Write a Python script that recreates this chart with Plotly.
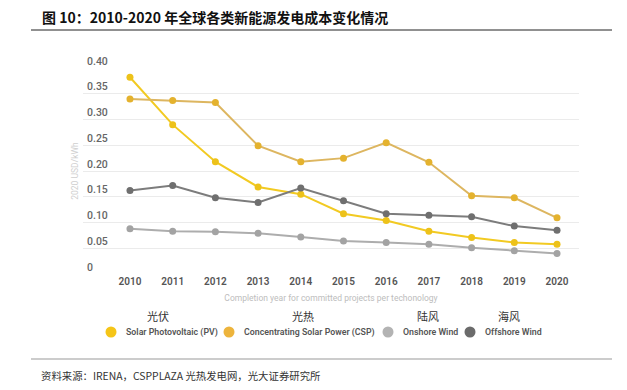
import plotly.graph_objects as go

years = [2010, 2011, 2012, 2013, 2014, 2015, 2016, 2017, 2018, 2019, 2020]
pv = [0.382, 0.290, 0.218, 0.169, 0.155, 0.117, 0.104, 0.083, 0.071, 0.061, 0.058]
csp = [0.340, 0.337, 0.333, 0.249, 0.218, 0.225, 0.255, 0.217, 0.152, 0.148, 0.109]
onshore = [0.088, 0.083, 0.082, 0.079, 0.072, 0.064, 0.061, 0.058, 0.051, 0.045, 0.040]
offshore = [0.162, 0.172, 0.148, 0.139, 0.167, 0.142, 0.117, 0.114, 0.111, 0.093, 0.085]

series_en = ["Solar Photovoltaic (PV)", "Concentrating Solar Power (CSP)", "Onshore Wind", "Offshore Wind"]
series_cn = ["光伏", "光热", "陆风", "海风"]
y_ticks = [0, 0.05, 0.10, 0.15, 0.20, 0.25, 0.30, 0.35, 0.40]
y_tick_text = ["0", "0.05", "0.10", "0.15", "0.20", "0.25", "0.30", "0.35", "0.40"]

title = "图 10：2010-2020 年全球各类新能源发电成本变化情况"
source = "资料来源：IRENA，CSPPLAZA 光热发电网，光大证券研究所"
x_title = "Completion year for committed projects per techonology"
y_title = "2020 USD/kWh"

# styles
line_colors = ["#F2CA22", "#DDB660", "#ADADAD", "#7C7C7C"]
marker_colors = ["#EDC21A", "#E4B22E", "#A3A3A3", "#6F6F6F"]
legend_colors = ["#F5C518", "#EDB43C", "#B3B3B3", "#6B6B6B"]

W, H = 627, 390
L, R, T, B = 83, 579, 68, 274


def px_x(p):
    return (p - L) / (R - L)


def px_y(p):
    return (B - p) / (B - T)


fig = go.Figure()
for vals, lc, mc, name in zip([pv, csp, onshore, offshore], line_colors, marker_colors, series_en):
    fig.add_trace(go.Scatter(
        x=years, y=vals, mode="lines+markers", name=name,
        line=dict(color=lc, width=2),
        marker=dict(color=mc, size=7),
        showlegend=False,
    ))

font_en = "Roboto, Arial, sans-serif"
font_cn = "Noto Sans CJK SC, sans-serif"

fig.update_layout(
    width=W, height=H,
    margin=dict(l=L, r=W - R, t=T, b=H - B, autoexpand=False),
    paper_bgcolor="white", plot_bgcolor="white",
    font=dict(family=font_en),
    xaxis=dict(
        range=[2008.9, 2020.515], tickvals=years, ticktext=[str(y) for y in years],
        showgrid=False, zeroline=False, showline=False, ticks="",
        tickfont=dict(size=10, color="#555555", family=font_en, weight=600),
        title=dict(text=x_title, font=dict(size=8.5, color="#BDBDBD"), standoff=9),
    ),
    yaxis=dict(
        range=[0, 0.40], tickvals=y_ticks, showticklabels=False,
        showgrid=True, gridcolor="#EBEBEB", gridwidth=1, zeroline=False, showline=False,
        ticks="",
        title=dict(text=y_title, font=dict(size=8.5, color="#CFCFCF"), standoff=2),
    ),
)

annotations = []
shapes = []

# y tick labels (left aligned, sitting above their grid lines)
for v, t in zip(y_ticks, y_tick_text):
    annotations.append(dict(xref="paper", yref="y", x=px_x(85), y=v, yshift=7, xanchor="left", yanchor="middle",
                            text=t, showarrow=False,
                            font=dict(family=font_en, size=10.5, color="#666666", weight=500)))

# header title + rule
annotations.append(dict(xref="paper", yref="paper", x=px_x(40), y=px_y(17), xanchor="left", yanchor="middle",
                        text=title, showarrow=False,
                        font=dict(family=font_cn, size=14, color="#111111", weight="bold")))
shapes.append(dict(type="line", xref="paper", yref="paper", x0=px_x(31), x1=px_x(612), y0=px_y(30), y1=px_y(30),
                   line=dict(color="#222222", width=1)))

# legend
circle_x = [111, 229, 388, 470]
text_x = [124, 242, 401, 483]
cn_x = [158, 303, 428, 509]
for cx, tx, nx, col, en, cn in zip(circle_x, text_x, cn_x, legend_colors, series_en, series_cn):
    shapes.append(dict(type="circle", xref="paper", yref="paper", xsizemode="pixel", ysizemode="pixel",
                       xanchor=px_x(cx), yanchor=px_y(332), x0=-5.5, x1=5.5, y0=-5.5, y1=5.5,
                       fillcolor=col, line=dict(width=0)))
    annotations.append(dict(xref="paper", yref="paper", x=px_x(tx), y=px_y(332), xanchor="left", yanchor="middle",
                            text=en, showarrow=False,
                            font=dict(family=font_en, size=8.8, color="#555555", weight=600)))
    annotations.append(dict(xref="paper", yref="paper", x=px_x(nx), y=px_y(316), xanchor="center", yanchor="middle",
                            text=cn, showarrow=False,
                            font=dict(family=font_cn, size=11, color="#333333")))

# footer
shapes.append(dict(type="line", xref="paper", yref="paper", x0=px_x(31), x1=px_x(612), y0=px_y(359), y1=px_y(359),
                   line=dict(color="#999999", width=1)))
annotations.append(dict(xref="paper", yref="paper", x=px_x(39), y=px_y(375), xanchor="left", yanchor="middle",
                        text=source, showarrow=False,
                        font=dict(family=font_cn, size=10.4, color="#333333")))

fig.update_layout(annotations=annotations, shapes=shapes)
fig.write_html("out.html", config={"displayModeBar": False},
               post_script="document.body.style.margin='0';")
